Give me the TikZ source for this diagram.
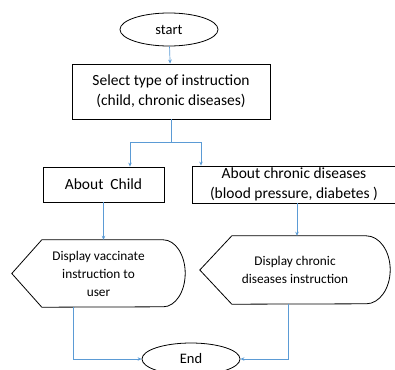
\documentclass[tikz,border=0pt]{standalone}
\usepackage{fontspec}
\setmainfont{Carlito}
\usetikzlibrary{arrows.meta,shapes.geometric}
\definecolor{flowblue}{RGB}{91,155,213}

\begin{document}
\begin{tikzpicture}[x=1pt,y=-1pt,
  terminal/.style = {draw,ellipse,line width=0.8pt,minimum width=98pt,minimum height=33pt,inner sep=0pt,font=\fontsize{14.5}{16}\selectfont},
  process/.style = {draw,rectangle,line width=0.8pt,align=center,inner sep=0pt,font=\fontsize{15.5}{20}\selectfont},
  display/.style = {align=center,inner sep=0pt,font=\fontsize{13.3}{18}\selectfont},
  flowline/.style = {draw=flowblue,line width=0.7pt},
  flow/.style = {flowline,-{Stealth[length=4pt,width=3.5pt]}}
  ]
  \useasboundingbox (0,0) rectangle (395,369);
  \node[terminal] (start) at (169,29.5) {start};
  \node[process,minimum width=198pt,minimum height=55pt] (select) at (171,91.5)
    {Select type of instruction\\(child, chronic diseases)};
  \node[process,minimum width=121pt,minimum height=35pt] (child) at (103.5,184.5) {About\ \ Child};
  \node[process,minimum width=204pt,minimum height=37pt] (chronic) at (294,184.5)
    {About chronic diseases\\(blood pressure, diabetes )};
  \node[display,minimum width=173pt,minimum height=67pt] (disp1) at (98.5,273.5)
    {Display vaccinate\\instruction to\\user};
  \node[display,minimum width=190pt,minimum height=68pt] (disp2) at (295,270)
    {Display chronic\\diseases instruction};
  \node[terminal,minimum height=32pt] (end) at (191,359) {End};

  % display outlines
  \draw[line width=0.8pt] (disp1.west) -- ([xshift=30pt]disp1.north west)
    -- ([xshift=-22pt]disp1.north east) arc[start angle=90,end angle=-90,x radius=22pt,y radius=33.5pt]
    -- ([xshift=30pt]disp1.south west) -- cycle;
  \draw[line width=0.8pt] (disp2.west) -- ([xshift=32pt]disp2.north west)
    -- ([xshift=-24pt]disp2.north east) arc[start angle=90,end angle=-90,x radius=24pt,y radius=34pt]
    -- ([xshift=32pt]disp2.south west) -- cycle;

  % connectors
  \coordinate (fork) at (171,142);
  \coordinate (forkL) at (130,142);
  \coordinate (forkR) at (201,142);
  \draw[flow] (start) -- (select);
  \draw[flowline] (select.south) -- (fork);
  \draw[flowline] (forkL) -- (forkR);
  \draw[flow] (forkL) -- (forkL |- child.north);
  \draw[flow] (forkR) -- (forkR |- chronic.north);
  \draw[flow] (child.south) -- (child.south |- disp1.north);
  \draw[flow] ([xshift=3pt]chronic.south) -- ([xshift=3pt]chronic.south |- disp2.north);
  \draw[flow] ([xshift=-25.5pt]disp1.south) |- (end.west);
  \draw[flow] ([xshift=-7pt]disp2.south) |- (end.east);
\end{tikzpicture}
\end{document}
